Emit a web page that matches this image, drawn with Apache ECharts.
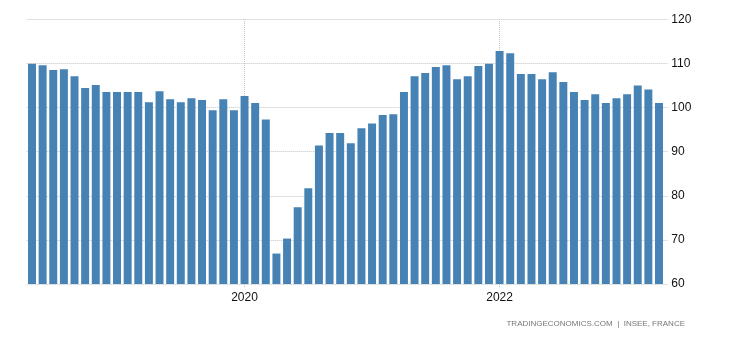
<!DOCTYPE html>
<html>
<head>
<meta charset="utf-8">
<script src="https://cdn.jsdelivr.net/npm/echarts@6/dist/echarts.min.js"></script>
<style>
html, body { margin: 0; padding: 0; background: #fff; }
#chart { width: 730px; height: 340px; }
</style>
</head>
<body>
<div id="chart"></div>
<script>
// months May 2018 .. Apr 2023
var months = []
for (var i = 0; i < 60; i++) {
	var m = (4 + i) % 12 + 1
	var y = 2018 + Math.floor((4 + i) / 12)
	months.push(y + '-' + (m < 10 ? '0' + m : m))
}
var values = [
	109.9, 109.6, 108.5, 108.7, 107.1, 104.4, 105.1, 103.5, 103.5, 103.5,
	103.5, 101.2, 103.7, 101.9, 101.2, 102.1, 101.7, 99.4, 101.9, 99.4,
	102.6, 101.0, 97.3, 66.9, 70.3, 77.4, 81.7, 91.4, 94.2, 94.2,
	91.9, 95.3, 96.4, 98.3, 98.5, 103.5, 107.1, 107.8, 109.2, 109.6,
	106.4, 107.1, 109.4, 109.9, 112.8, 112.3, 107.6, 107.6, 106.4, 108.0,
	105.8, 103.5, 101.7, 103.0, 101.0, 102.1, 103.0, 105.0, 104.1, 101.0
]
var yearMarks = ['2020-01', '2022-01']
var sourceText = 'TRADINGECONOMICS.COM  |  INSEE, FRANCE'

var gridColor = '#c4c4c4'
var dots = [1, 1]

function isMark (idx, val) { return yearMarks.indexOf(val) >= 0 }

var chart = echarts.init(document.getElementById('chart'))
chart.setOption({
	animation: false,
	grid: { left: 26.7, right: 65.7, top: 19.3, bottom: 56 },
	xAxis: {
		type: 'category',
		data: months,
		axisLine: { show: false },
		axisTick: {
			show: true,
			alignWithLabel: true,
			interval: isMark,
			length: 4,
			lineStyle: { color: gridColor, type: dots }
		},
		axisLabel: {
			interval: isMark,
			formatter: function (val) { return val.slice(0, 4) },
			color: '#111',
			fontFamily: 'Liberation Sans',
			fontSize: 12,
			margin: 8
		},
		splitLine: { show: false }
	},
	yAxis: {
		type: 'value',
		position: 'right',
		min: 60,
		max: 120,
		interval: 10,
		axisLine: { show: false },
		axisTick: { show: true, length: 4, lineStyle: { color: gridColor, type: dots } },
		axisLabel: { color: '#111', fontFamily: 'Liberation Sans', fontSize: 12, margin: 7 },
		splitLine: { lineStyle: { color: gridColor, type: dots, width: 1 } }
	},
	series: [{
		type: 'bar',
		z: 3,
		data: values,
		barWidth: '75%',
		itemStyle: { color: '#4682B4' },
		markLine: {
			silent: true,
			z: 1,
			symbol: 'none',
			label: { show: false },
			lineStyle: { color: gridColor, type: dots, width: 1 },
			data: yearMarks.map(function (d) { return { xAxis: d } })
		}
	}],
	graphic: [{
		type: 'text',
		right: 45,
		top: 320,
		style: { text: sourceText, fill: '#777', font: '8px "Liberation Sans"' }
	}]
})
</script>
</body>
</html>
